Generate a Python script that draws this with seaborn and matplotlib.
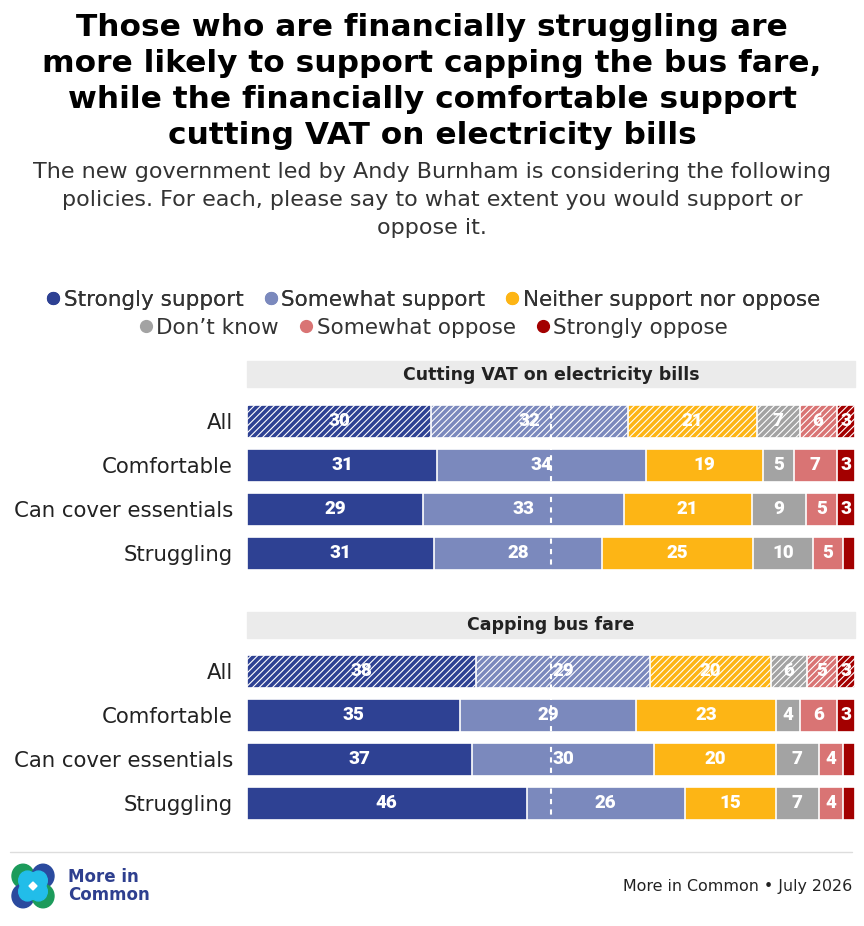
import matplotlib
matplotlib.use("Agg")
import matplotlib.pyplot as plt
from matplotlib.patches import Rectangle, Circle, Polygon
from matplotlib.lines import Line2D
import seaborn as sns
import pandas as pd
import numpy as np

# Data
groups = ["All", "Comfortable", "Can cover essentials", "Struggling"]
responses = ["Strongly support", "Somewhat support", "Neither support nor oppose",
             "Don\u2019t know", "Somewhat oppose", "Strongly oppose"]
colors = ["#2e4193", "#7b89bd", "#fdb515", "#a3a3a3", "#d97474", "#a30000"]

vat_all = [30, 32, 21, 7, 6, 3]
vat_comfortable = [31, 34, 19, 5, 7, 3]
vat_essentials = [29, 33, 21, 9, 5, 3]
vat_struggling = [31, 28, 25, 10, 5, 2]

bus_all = [38, 29, 20, 6, 5, 3]
bus_comfortable = [35, 29, 23, 4, 6, 3]
bus_essentials = [37, 30, 20, 7, 4, 2]
bus_struggling = [46, 26, 15, 7, 4, 2]

panels = [
    ("Cutting VAT on electricity bills", [vat_all, vat_comfortable, vat_essentials, vat_struggling]),
    ("Capping bus fare", [bus_all, bus_comfortable, bus_essentials, bus_struggling]),
]

sns.set_style("white")
plt.rcParams["font.family"] = ["DejaVu Sans"]
plt.rcParams["hatch.linewidth"] = 0.8

W, H = 864, 926
fig = plt.figure(figsize=(W / 100, H / 100), dpi=100)


def fx(px):
    return px / W


def fy(py):
    return 1 - py / H


# Title and subtitle
title_lines = ["Those who are financially struggling are",
               "more likely to support capping the bus fare,",
               "while the financially comfortable support",
               "cutting VAT on electricity bills"]
for i, line in enumerate(title_lines):
    fig.text(0.5, fy(27 + 36 * i), line, ha="center", va="center",
             fontsize=22.5, fontweight="bold", color="#000000")

sub_lines = ["The new government led by Andy Burnham is considering the following",
             "policies. For each, please say to what extent you would support or",
             "oppose it."]
for i, line in enumerate(sub_lines):
    fig.text(0.5, fy(172 + 28 * i), line, ha="center", va="center",
             fontsize=16, color="#333333")

# Legend in two centred rows
handles = [Line2D([], [], marker="o", ls="", markersize=8.5, markerfacecolor=c,
                  markeredgecolor=c) for c in colors]
leg1 = fig.legend(handles[:3], responses[:3], loc="center", ncol=3,
                  bbox_to_anchor=(0.5, fy(300)), frameon=False, fontsize=15.5,
                  handletextpad=0.05, columnspacing=0.8, handlelength=0.9,
                  labelcolor="#333333")
fig.add_artist(leg1)
fig.legend(handles[3:], responses[3:], loc="center", ncol=3,
           bbox_to_anchor=(0.5, fy(328)), frameon=False, fontsize=15.5,
           handletextpad=0.05, columnspacing=0.8, handlelength=0.9,
           labelcolor="#333333")

bar_left, bar_right = 247, 855
band_tops = [361, 612]
row_tops = [399, 649]

for (title, rows), band_top, row_top in zip(panels, band_tops, row_tops):
    # header band
    fig.add_artist(Rectangle((fx(bar_left), fy(band_top + 26)), fx(bar_right) - fx(bar_left),
                             26 / H, transform=fig.transFigure, color="#ebebeb", zorder=0))
    fig.text((fx(bar_left) + fx(bar_right)) / 2, fy(band_top + 13.5), title,
             ha="center", va="center", fontsize=12.5, fontweight="bold", color="#222222")

    ax = fig.add_axes([fx(bar_left), fy(row_top + 176), fx(bar_right) - fx(bar_left), 176 / H])

    vals = np.array(rows, dtype=float)
    shares = vals / vals.sum(axis=1, keepdims=True) * 100
    cum = shares.cumsum(axis=1)

    # stacked bars: draw cumulative totals from the right-most segment down
    for k in range(len(responses) - 1, -1, -1):
        df = pd.DataFrame({"group": groups, "cum": cum[:, k]})
        sns.barplot(data=df, x="cum", y="group", color=colors[k], orient="h",
                    width=0.75, edgecolor="white", linewidth=1.2, saturation=1, ax=ax)
        ax.patches[-4].set_hatch("/////")

    # value labels
    for i in range(len(groups)):
        for k in range(len(responses)):
            if vals[i, k] >= 3:
                center = cum[i, k] - shares[i, k] / 2
                ax.text(center, i, f"{int(vals[i, k])}", ha="center", va="center",
                        color="white", fontsize=13.5, fontweight="black", zorder=6,
                        family=["Roboto", "DejaVu Sans"])

    ax.axvline(50, color="white", ls=(0, (2.5, 2.5)), lw=1.5, zorder=5)
    ax.set_xlim(0, 100)
    ax.set_ylim(3.5, -0.5)
    ax.set_xlabel("")
    ax.set_ylabel("")
    ax.set_xticks([])
    ax.tick_params(axis="y", length=0, pad=10, labelsize=15.3, labelcolor="#222222")
    sns.despine(ax=ax, left=True, bottom=True)

# Footer
fig.add_artist(Line2D([fx(10), fx(852)], [fy(852), fy(852)], transform=fig.transFigure,
                      color="#dddddd", lw=1))
fig.text(fx(852), fy(887), "More in Common \u2022 July 2026", ha="right", va="center",
         fontsize=11.4, color="#222222")

# Logo
cx, cy, r, d = 33, 886, 11, 10
green, dark, light = "#1c9b5b", "#2a4a9e", "#22bde9"
for (dx, dy), c in zip([(-1, -1), (1, -1), (-1, 1), (1, 1)], [green, dark, dark, green]):
    fig.add_artist(Circle((fx(cx + dx * d), fy(cy + dy * d)), r / W, transform=fig.transFigure,
                          color=c, zorder=2))
for dx, dy in [(-1, -1), (1, -1), (-1, 1), (1, 1)]:
    fig.add_artist(Circle((fx(cx + dx * d * 0.55), fy(cy + dy * d * 0.55)), r * 0.8 / W,
                          transform=fig.transFigure, color=light, zorder=3))
fig.add_artist(Polygon([(fx(cx), fy(cy - 4)), (fx(cx + 4), fy(cy)), (fx(cx), fy(cy + 4)),
                        (fx(cx - 4), fy(cy))], closed=True, transform=fig.transFigure,
                       color="white", zorder=4))
fig.text(fx(68), fy(877), "More in", ha="left", va="center", fontsize=12,
         fontweight="bold", color="#2e3f8f")
fig.text(fx(68), fy(895), "Common", ha="left", va="center", fontsize=12,
         fontweight="bold", color="#2e3f8f")

fig.savefig("out.png", dpi=100, facecolor="white")
